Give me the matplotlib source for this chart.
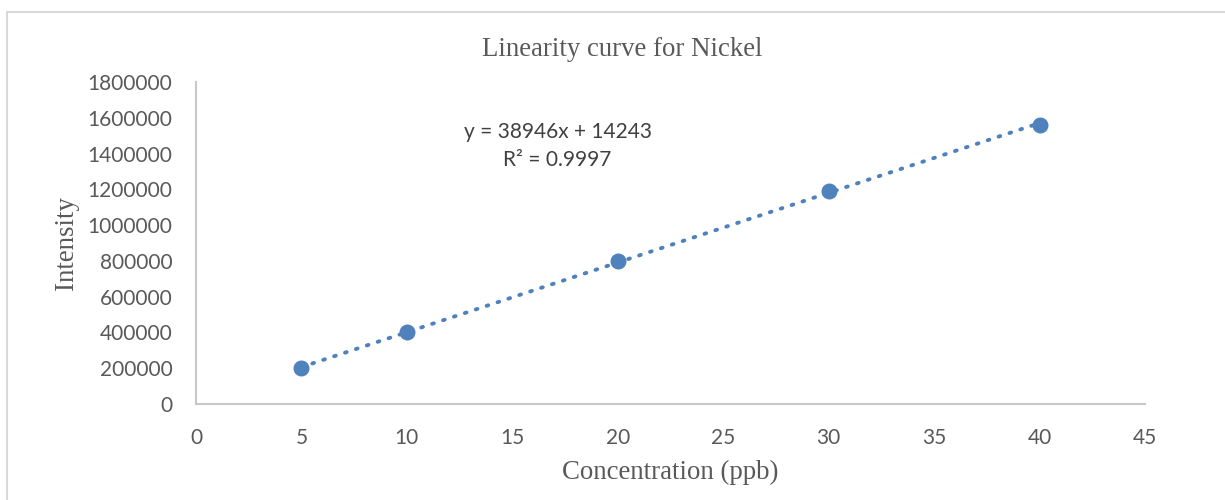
import numpy as np
import matplotlib.pyplot as plt
from matplotlib.patches import Rectangle

# calibration data
conc = [5, 10, 20, 30, 40]
intensity = [200000, 400000, 800000, 1190000, 1560000]
x_ticks = [0, 5, 10, 15, 20, 25, 30, 35, 40, 45]
y_ticks = [0, 200000, 400000, 600000, 800000, 1000000, 1200000, 1400000, 1600000, 1800000]
eq_text = "y = 38946x + 14243"
r2_text = "R² = 0.9997"

blue = "#4F81BD"
grey_txt = "#595959"

fig = plt.figure(figsize=(12.25, 5.0), dpi=100)
ax = fig.add_axes([0.160, 0.192, 0.7747, 0.644])

# outer chart border like the spreadsheet chart area
fig.patches.append(Rectangle((7 / 1225, -0.1), 1.2, 0.1 + 488 / 500, transform=fig.transFigure,
                             fill=False, edgecolor="#D9D9D9", linewidth=1.5))

# linear trendline
coef = np.polyfit(conc, intensity, 1)
xs = np.array([min(conc), max(conc)])
ax.plot(xs, np.polyval(coef, xs), linestyle=(0, (0.45, 2.5)), color=blue, linewidth=2.8,
        dash_capstyle="round", zorder=2)
ax.plot(conc, intensity, "o", color=blue, markersize=10.5, zorder=3)

ax.set_xlim(0, 45)
ax.set_ylim(0, 1800000)
ax.set_xticks(x_ticks)
ax.set_yticks(y_ticks)
ax.set_xticklabels([str(v) for v in x_ticks], family="Lato", fontsize=15, color=grey_txt)
ax.set_yticklabels([str(v) for v in y_ticks], family="Lato", fontsize=15, color=grey_txt)
ax.tick_params(length=0)
ax.tick_params(axis="x", pad=17)
ax.tick_params(axis="y", pad=17)

for s in ["top", "right"]:
    ax.spines[s].set_visible(False)
for s in ["left", "bottom"]:
    ax.spines[s].set_color("#C8C8C8")
    ax.spines[s].set_linewidth(1.5)

ax.text(558 / 1225, 1 - 132 / 500, eq_text, transform=fig.transFigure, ha="center", va="center",
        family="Lato", fontsize=15, color="#404040")
ax.text(557 / 1225, 1 - 160 / 500, r2_text, transform=fig.transFigure, ha="center", va="center",
        family="Lato", fontsize=15, color="#404040")

fig.text(622 / 1225, 1 - 50 / 500, "Linearity curve for Nickel", ha="center", va="center",
         family="Liberation Serif", fontsize=19.3, color=grey_txt)
fig.text(670 / 1225, 1 - 472 / 500, "Concentration (ppb)", ha="center", va="center",
         family="Liberation Serif", fontsize=19.3, color=grey_txt)
fig.text(66 / 1225, 1 - 243 / 500, "Intensity", ha="center", va="center", rotation=90,
         family="Liberation Serif", fontsize=19.3, color=grey_txt)

fig.savefig("out.png", dpi=100)
